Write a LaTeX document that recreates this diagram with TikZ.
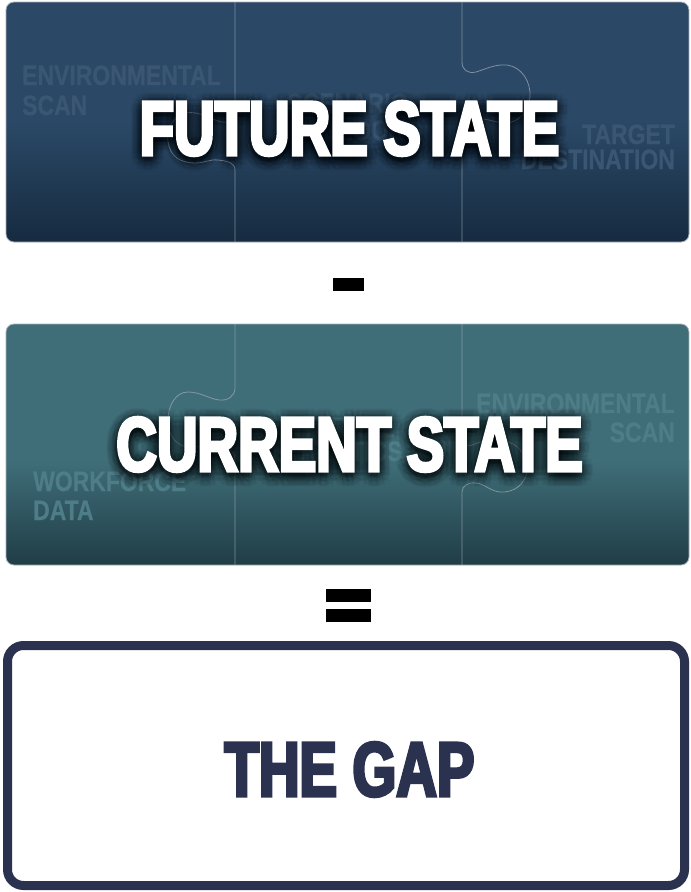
\documentclass[tikz,border=0pt]{standalone}
\usepackage{fontspec}
\newfontfamily\heavyfont[FakeStretch=0.73,FakeBold=4]{Liberation Sans Bold}
\newfontfamily\tagfont[FakeStretch=0.82,FakeBold=0.5]{Liberation Sans Bold}

\definecolor{futtop}{HTML}{2B4967}
\definecolor{futbot}{HTML}{162B40}
\definecolor{futtxt}{HTML}{3A5672}
\definecolor{curtop}{HTML}{3F6E79}
\definecolor{curbot}{HTML}{203D46}
\definecolor{curtxt}{HTML}{4E7C87}
\definecolor{gapblue}{HTML}{2B3250}
\definecolor{seam}{HTML}{9AA7B2}
\definecolor{rim}{HTML}{A7B0B8}

\tikzset{
  headline/.style={inner sep=0pt, font=\heavyfont\fontsize{77}{77}\selectfont},
  glow/.style={headline, text=black, opacity=0.045},
  tag/.style={inner sep=0pt, font=\tagfont\fontsize{28}{28}\selectfont},
  seamline/.style={seam, line width=0.8pt, opacity=0.75},
  panelrim/.style={rim, line width=0.8pt, rounded corners=8pt},
}

% white headline with a soft dark halo behind it
\newcommand{\haloed}[4]{%
  \foreach \ang in {0,30,...,330}{
    \foreach \rad in {3,7,11}{
      \node[glow, anchor=base] (#1-h-\ang-\rad) at ([shift={(\ang:\rad)}]#2,#3+3) {#4};
    }
  }
  \node[headline, text=white, anchor=base] (#1) at (#2,#3) {#4};
}

\begin{document}
\begin{tikzpicture}[x=1pt,y=-1pt]
\useasboundingbox (0,0) rectangle (691,892);
\fill[white] (0,0) rectangle (691,892);

% ---------- future state panel ----------
\begin{scope}
  \clip[rounded corners=8pt] (6,2) rectangle (689,242);
  \fill[futtop] (6,2) rectangle (689,242);
  \shade[top color=futtop, bottom color=futbot] (6,120) rectangle (689,242);
  \node[tag, text=futtxt, anchor=base west] (fenvA) at (22,85) {ENVIRONMENTAL};
  \node[tag, text=futtxt, anchor=base west] (fenvB) at (22,115) {SCAN};
  \node[tag, text=futtxt, anchor=base] (fscnA) at (348,113) {SCENARIO};
  \node[tag, text=futtxt, anchor=base] (fscnB) at (348,140) {OUTLOOK};
  \node[tag, text=futtxt, anchor=base east] (ftgtA) at (675,144) {TARGET};
  \node[tag, text=futtxt, anchor=base east] (ftgtB) at (675,169) {DESTINATION};
  % puzzle seams
  \draw[seamline] (235,2) -- (235,116)
    .. controls (235,122) and (226,124) .. (218,121)
    .. controls (205,116) and (196,111) .. (186,113)
    .. controls (173,116) and (166,129) .. (168,142)
    .. controls (170,156) and (180,163) .. (195,163)
    .. controls (205,163) and (210,159) .. (218,160)
    .. controls (228,161) and (235,163) .. (235,170)
    -- (235,242);
  \draw[seamline] (462,2) -- (462,62)
    .. controls (462,70) and (468,74) .. (476,72)
    .. controls (486,69) and (495,64) .. (507,65)
    .. controls (522,67) and (531,82) .. (530,97)
    .. controls (529,112) and (518,123) .. (505,123)
    .. controls (495,123) and (488,118) .. (478,119)
    .. controls (468,120) and (462,124) .. (462,132)
    -- (462,242);
\end{scope}
\draw[panelrim] (6,2) rectangle (689,242);
\haloed{futurelabel}{349.5}{155}{FUTURE STATE}

% ---------- minus ----------
\fill[black] (333,278) rectangle (364,291);

% ---------- current state panel ----------
\begin{scope}
  \clip[rounded corners=8pt] (6,324) rectangle (689,565);
  \fill[curtop] (6,324) rectangle (689,565);
  \shade[top color=curtop, bottom color=curbot] (6,460) rectangle (689,565);
  \node[tag, text=curtxt, anchor=base east] (cenvA) at (675,413) {ENVIRONMENTAL};
  \node[tag, text=curtxt, anchor=base east] (cenvB) at (675,442) {SCAN};
  \node[tag, text=curtxt, anchor=base west] (cwfA) at (33,491) {WORKFORCE};
  \node[tag, text=curtxt, anchor=base west] (cwfB) at (33,520) {DATA};
  \node[tag, text=curtxt, anchor=base] (cstA) at (337,437) {INTERNAL};
  \node[tag, text=curtxt, anchor=base] (cstB) at (337,461) {STATISTICS};
  % puzzle seams
  \draw[seamline] (235,324) -- (235,388)
    .. controls (235,396) and (228,401) .. (219,400)
    .. controls (210,399) and (200,392) .. (188,392)
    .. controls (176,392) and (168,405) .. (168,420)
    .. controls (168,435) and (176,447) .. (190,447)
    .. controls (200,447) and (210,444) .. (220,446)
    .. controls (229,448) and (235,452) .. (235,458)
    -- (235,565);
  \draw[seamline] (462,324) -- (462,440)
    .. controls (462,446) and (468,447) .. (475,444)
    .. controls (485,440) and (492,438) .. (502,440)
    .. controls (518,443) and (528,455) .. (527,470)
    .. controls (526,484) and (514,493) .. (500,492)
    .. controls (490,491) and (485,484) .. (476,483)
    .. controls (468,482) and (462,486) .. (462,492)
    -- (462,565);
\end{scope}
\draw[panelrim] (6,324) rectangle (689,565);
\haloed{currentlabel}{349.5}{471}{CURRENT STATE}

% ---------- equals ----------
\fill[black] (326,589) rectangle (371,602);
\fill[black] (326,609) rectangle (371,622);

% ---------- the gap ----------
\draw[gapblue, line width=9pt, rounded corners=16pt] (7.5,645.5) rectangle (684.5,885.5);
\node[headline, text=gapblue, anchor=base] (gaplabel) at (349.5,796) {THE GAP};

\end{tikzpicture}
\end{document}
